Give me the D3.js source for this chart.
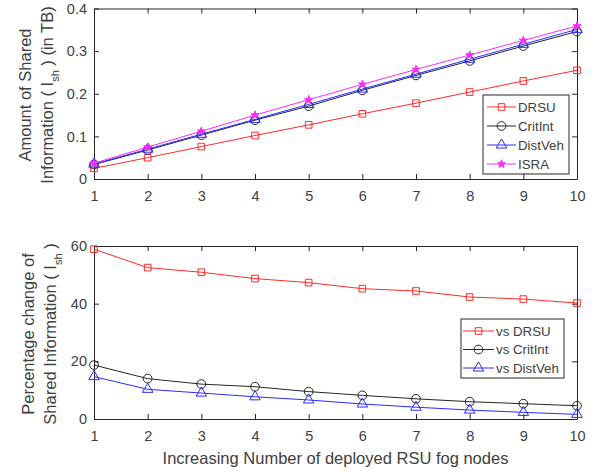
<!DOCTYPE html>
<html>
<head>
<meta charset="utf-8">
<script src="https://cdn.jsdelivr.net/npm/d3@7"></script>
<style>
  body { margin: 0; background: #fff; }
  text { font-family: "Liberation Sans", Arial, sans-serif; fill: #404040; }
</style>
</head>
<body>
<script>
const width = 593
const height = 474

// x values: number of deployed RSU fog nodes
const nodes = [1, 2, 3, 4, 5, 6, 7, 8, 9, 10]

// top panel: amount of shared information (TB)
const drsu    = [0.025, 0.050, 0.076, 0.102, 0.127, 0.153, 0.178, 0.204, 0.230, 0.255]
const critInt = [0.034, 0.068, 0.103, 0.138, 0.171, 0.208, 0.243, 0.277, 0.312, 0.346]
const distVeh = [0.035, 0.070, 0.105, 0.140, 0.175, 0.211, 0.246, 0.281, 0.316, 0.351]
const isra    = [0.037, 0.075, 0.112, 0.150, 0.186, 0.222, 0.257, 0.291, 0.325, 0.359]
const topTicks = [0, 0.1, 0.2, 0.3, 0.4]

// bottom panel: percentage change of shared information
const vsDrsu    = [58.9, 52.5, 50.9, 48.7, 47.3, 45.2, 44.4, 42.3, 41.6, 40.2]
const vsCritInt = [18.7, 14.0, 12.1, 11.2, 9.5, 8.2, 7.0, 6.0, 5.3, 4.6]
const vsDistVeh = [14.7, 10.3, 9.0, 7.7, 6.6, 5.2, 4.1, 3.1, 2.3, 1.6]
const bottomTicks = [0, 20, 40, 60]

const topSeries = [
  {name: "DRSU", values: drsu, color: "#ff2a2a", symbol: "square"},
  {name: "CritInt", values: critInt, color: "#262626", symbol: "circle"},
  {name: "DistVeh", values: distVeh, color: "#2a2aff", symbol: "triangle"},
  {name: "ISRA", values: isra, color: "#ff2aff", symbol: "star"}
]
const bottomSeries = [
  {name: "vs DRSU", values: vsDrsu, color: "#ff2a2a", symbol: "square"},
  {name: "vs CritInt", values: vsCritInt, color: "#262626", symbol: "circle"},
  {name: "vs DistVeh", values: vsDistVeh, color: "#2a2aff", symbol: "triangle"}
]

const svg = d3.select("body").append("svg")
    .attr("width", width)
    .attr("height", height)

const x = d3.scaleLinear().domain([1, 10]).range([94, 577])

const yTop = d3.scaleLinear().domain([0, 0.4]).range([179, 8.5])
const yBot = d3.scaleLinear().domain([0, 60]).range([419, 246])

const symbols = {
  square: d3.symbol().type(d3.symbolSquare).size(44),
  circle: d3.symbol().type(d3.symbolCircle).size(60),
  triangle: d3.symbol().type(d3.symbolTriangle).size(48),
  star: d3.symbol().type(d3.symbolStar).size(20)
}

function drawPanel(y, ticks, fmt, series) {
  const g = svg.append("g")
  const [y0, y1] = y.range()

  // box edges with inward ticks
  g.append("g")
      .attr("transform", `translate(0,${y0})`)
      .call(d3.axisBottom(x).tickValues(nodes).tickSizeInner(-5).tickSizeOuter(0).tickPadding(12))
      .call(a => a.selectAll("text").attr("font-size", 14.5))
  g.append("g")
      .attr("transform", `translate(0,${y1})`)
      .call(d3.axisTop(x).tickValues(nodes).tickSizeInner(-5).tickSizeOuter(0).tickFormat(""))
  g.append("g")
      .attr("transform", `translate(${x.range()[0]},0)`)
      .call(d3.axisLeft(y).tickValues(ticks).tickSizeInner(-5).tickSizeOuter(0).tickPadding(7).tickFormat(fmt))
      .call(a => a.selectAll("text").attr("font-size", 14.5))
  g.append("g")
      .attr("transform", `translate(${x.range()[1]},0)`)
      .call(d3.axisRight(y).tickValues(ticks).tickSizeInner(-5).tickSizeOuter(0).tickFormat(""))

  g.selectAll(".domain").attr("stroke", "#262626")
  g.selectAll(".tick line").attr("stroke", "#262626")
  g.selectAll(".tick text").attr("fill", "#404040").attr("font-family", "Liberation Sans, Arial, sans-serif")

  const line = d3.line().x((d, i) => x(nodes[i])).y(d => y(d))

  series.forEach(s => {
    g.append("path")
        .datum(s.values)
        .attr("fill", "none")
        .attr("stroke", s.color)
        .attr("stroke-width", 1)
        .attr("d", line)
    g.selectAll(null)
      .data(s.values)
      .join("path")
        .attr("transform", (d, i) => `translate(${x(nodes[i])},${y(d)})`)
        .attr("d", symbols[s.symbol])
        .attr("fill", s.symbol === "star" ? s.color : "none")
        .attr("stroke", s.color)
        .attr("stroke-width", 1)
  })
}

function drawLegend(series, lx, ly, w, h, rowY, lineX0, lineX1, textX) {
  const g = svg.append("g")
  g.append("rect")
      .attr("x", lx).attr("y", ly).attr("width", w).attr("height", h)
      .attr("fill", "#fff").attr("stroke", "#262626").attr("stroke-width", 1)
  series.forEach((s, i) => {
    const yy = rowY[i]
    g.append("line")
        .attr("x1", lineX0).attr("x2", lineX1).attr("y1", yy).attr("y2", yy)
        .attr("stroke", s.color)
    g.append("path")
        .attr("transform", `translate(${(lineX0 + lineX1) / 2},${yy})`)
        .attr("d", symbols[s.symbol])
        .attr("fill", s.symbol === "star" ? s.color : "none")
        .attr("stroke", s.color)
    g.append("text")
        .attr("x", textX).attr("y", yy).attr("dy", "0.35em")
        .attr("font-size", 13.3)
        .attr("fill", "#262626")
        .text(s.name)
  })
}

drawPanel(yTop, topTicks, d => d === 0 ? "0" : d3.format(".1f")(d), topSeries)
drawPanel(yBot, bottomTicks, d3.format("d"), bottomSeries)

drawLegend(topSeries, 483, 95, 86, 79, [107, 126, 145, 164], 487, 516, 518)
drawLegend(bottomSeries, 461, 319, 103, 59, [331, 349.5, 368], 463, 494, 496)

// y labels
function yLabel(cx, cy, lines) {
  lines.forEach(l => {
    const t = svg.append("text")
        .attr("transform", `translate(${l.x},${cy}) rotate(-90)`)
        .attr("text-anchor", "middle")
        .attr("font-size", 16.5)
    l.parts.forEach(p => {
      const ts = t.append("tspan").text(p.t)
      if (p.sub) ts.attr("font-size", 11).attr("baseline-shift", "sub")
    })
  })
}

yLabel(0, 95, [
  {x: 31, parts: [{t: "Amount of Shared"}]},
  {x: 53, parts: [{t: "Information ( I"}, {t: "sh", sub: true}, {t: " ) (in TB)"}]}
])
yLabel(0, 334, [
  {x: 34, parts: [{t: "Percentage change of"}]},
  {x: 56, parts: [{t: "Shared Information ( I"}, {t: "sh", sub: true}, {t: " )"}]}
])

svg.append("text")
    .attr("x", 335.5).attr("y", 464)
    .attr("text-anchor", "middle")
    .attr("font-size", 16.5)
    .text("Increasing Number of deployed RSU fog nodes")
</script>
</body>
</html>
